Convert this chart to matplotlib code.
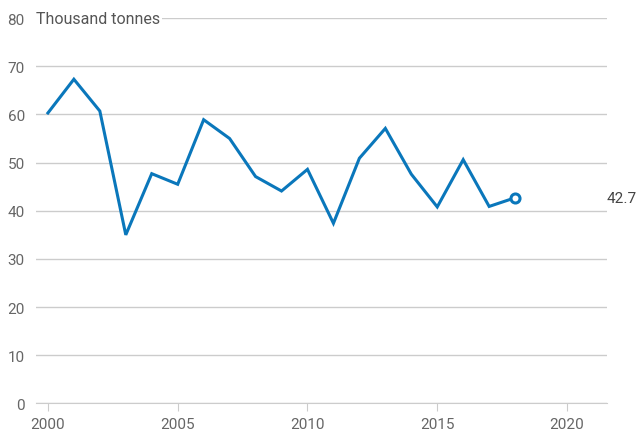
import matplotlib

matplotlib.use("Agg")
import matplotlib.pyplot as plt

YEARS = list(range(2000, 2019))
VALUES = [60.3, 67.3, 60.7, 35.0, 47.7, 45.5, 58.9, 55.0, 47.1, 44.1,
          48.6, 37.4, 50.9, 57.1, 47.6, 40.8, 50.6, 40.9, 42.7]
Y_TICKS = [0, 10, 20, 30, 40, 50, 60, 70, 80]
X_TICKS = [2000, 2005, 2010, 2015, 2020]
UNIT = "Thousand tonnes"

LINE = "#0a77bb"
GRID = "#cccccc"
TXT = "#666666"

plt.rcParams["font.family"] = ["Roboto", "DejaVu Sans"]

fig = plt.figure(figsize=(6.38, 4.39), dpi=100)
ax = fig.add_axes([0.0564, 0.0786, 0.895, 0.878])

ax.plot(YEARS, VALUES, color=LINE, lw=2.2, solid_joinstyle="miter", zorder=3)
ax.plot(YEARS[-1], VALUES[-1], "o", ms=6.5, mfc="white", mec=LINE, mew=2.2, zorder=4)
ax.annotate(f"{VALUES[-1]:.1f}", xy=(1, VALUES[-1]), xycoords=("axes fraction", "data"),
            xytext=(0, 0), textcoords="offset points", ha="left", va="center",
            fontsize=11, color="#444444", annotation_clip=False)

ax.set_xlim(1999.54, 2021.54)
ax.set_ylim(0, 80)
ax.set_yticks(Y_TICKS)
ax.set_xticks(X_TICKS)
ax.grid(axis="y", color=GRID, lw=1)
ax.set_axisbelow(True)
for s in ("top", "right", "left"):
    ax.spines[s].set_visible(False)
ax.spines["bottom"].set_color(GRID)
ax.tick_params(axis="y", length=0, pad=8, labelsize=11, labelcolor=TXT)
ax.tick_params(axis="x", length=6, color=GRID, pad=4, labelsize=11, labelcolor=TXT)

ax.text(0, 80, UNIT, transform=ax.get_yaxis_transform(), ha="left", va="center",
        fontsize=11.5, color="#555555",
        bbox=dict(facecolor="white", edgecolor="none", pad=1.5), zorder=5)

fig.savefig("out.png", dpi=100)
